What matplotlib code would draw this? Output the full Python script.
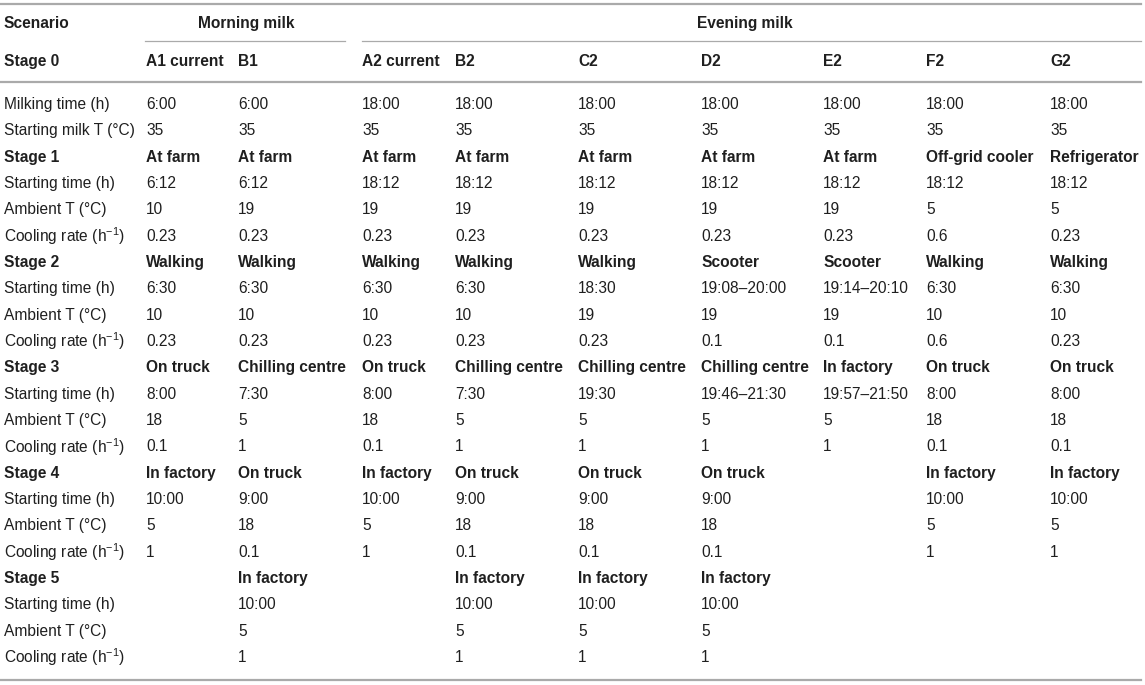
import matplotlib
matplotlib.use("Agg")
import matplotlib.pyplot as plt

plt.rcParams["mathtext.fontset"] = "custom"
plt.rcParams["mathtext.rm"] = "Liberation Sans"
plt.rcParams["mathtext.it"] = "Liberation Sans:italic"
plt.rcParams["mathtext.bf"] = "Liberation Sans:bold"

# ---- table content ----
groups = ["Morning milk", "Evening milk"]
scenarios = ["A1 current", "B1", "A2 current", "B2", "C2", "D2", "E2", "F2", "G2"]

milking_time = ["6:00", "6:00", "18:00", "18:00", "18:00", "18:00", "18:00", "18:00", "18:00"]
start_milk_T = ["35", "35", "35", "35", "35", "35", "35", "35", "35"]

s1_place = ["At farm", "At farm", "At farm", "At farm", "At farm", "At farm", "At farm",
            "Off-grid cooler", "Refrigerator"]
s1_time = ["6:12", "6:12", "18:12", "18:12", "18:12", "18:12", "18:12", "18:12", "18:12"]
s1_amb = ["10", "19", "19", "19", "19", "19", "19", "5", "5"]
s1_rate = ["0.23", "0.23", "0.23", "0.23", "0.23", "0.23", "0.23", "0.6", "0.23"]

s2_place = ["Walking", "Walking", "Walking", "Walking", "Walking", "Scooter", "Scooter",
            "Walking", "Walking"]
s2_time = ["6:30", "6:30", "6:30", "6:30", "18:30", "19:08\u201320:00", "19:14\u201320:10",
           "6:30", "6:30"]
s2_amb = ["10", "10", "10", "10", "19", "19", "19", "10", "10"]
s2_rate = ["0.23", "0.23", "0.23", "0.23", "0.23", "0.1", "0.1", "0.6", "0.23"]

s3_place = ["On truck", "Chilling centre", "On truck", "Chilling centre", "Chilling centre",
            "Chilling centre", "In factory", "On truck", "On truck"]
s3_time = ["8:00", "7:30", "8:00", "7:30", "19:30", "19:46\u201321:30", "19:57\u201321:50",
           "8:00", "8:00"]
s3_amb = ["18", "5", "18", "5", "5", "5", "5", "18", "18"]
s3_rate = ["0.1", "1", "0.1", "1", "1", "1", "1", "0.1", "0.1"]

s4_place = ["In factory", "On truck", "In factory", "On truck", "On truck", "On truck", "",
            "In factory", "In factory"]
s4_time = ["10:00", "9:00", "10:00", "9:00", "9:00", "9:00", "", "10:00", "10:00"]
s4_amb = ["5", "18", "5", "18", "18", "18", "", "5", "5"]
s4_rate = ["1", "0.1", "1", "0.1", "0.1", "0.1", "", "1", "1"]

s5_place = ["", "In factory", "", "In factory", "In factory", "In factory", "", "", ""]
s5_time = ["", "10:00", "", "10:00", "10:00", "10:00", "", "", ""]
s5_amb = ["", "5", "", "5", "5", "5", "", "", ""]
s5_rate = ["", "1", "", "1", "1", "1", "", "", ""]

lbl_time = "Starting time (h)"
lbl_amb = "Ambient T (\u00b0C)"
lbl_rate = r"Cooling rate (h$^{-1}$)"

# (label, values, bold)
body = [
    ("Milking time (h)", milking_time, False),
    ("Starting milk T (\u00b0C)", start_milk_T, False),
]
for k, (pl, tm, am, rt) in enumerate([
        (s1_place, s1_time, s1_amb, s1_rate),
        (s2_place, s2_time, s2_amb, s2_rate),
        (s3_place, s3_time, s3_amb, s3_rate),
        (s4_place, s4_time, s4_amb, s4_rate),
        (s5_place, s5_time, s5_amb, s5_rate)]):
    body.append(("Stage %d" % (k + 1), pl, True))
    body.append((lbl_time, tm, False))
    body.append((lbl_amb, am, False))
    body.append((lbl_rate, rt, False))

# ---- layout (pixel coordinates) ----
W, H = 1145, 685
col_x = [146, 238, 362, 455, 578, 701, 823, 926, 1050]
label_x = 4
y_first = 104.5
dy = 26.33
fs = 11.2
txt_color = "#1f1f1f"
line_color = "#aaaaaa"
fam = ["Liberation Sans", "DejaVu Sans"]

fig = plt.figure(figsize=(W / 100, H / 100), dpi=100)
ax = fig.add_axes([0, 0, 1, 1])
ax.set_xlim(0, W)
ax.set_ylim(H, 0)
ax.axis("off")


def put(x, y, s, bold=False, ha="left"):
    ax.text(x, y, s, fontsize=fs, family=fam, color=txt_color,
            fontweight="bold" if bold else "normal", ha=ha, va="center")


# rules
ax.plot([0, 1141], [4, 4], color=line_color, lw=1.6)
ax.plot([145, 345], [41, 41], color=line_color, lw=0.9)
ax.plot([362, 1141], [41, 41], color=line_color, lw=0.9)
ax.plot([0, 1141], [82, 82], color=line_color, lw=1.6)
ax.plot([0, 1141], [680, 680], color=line_color, lw=1.6)

# header
put(label_x, 23, "Scenario", bold=True)
put(246, 23, groups[0], bold=True, ha="center")
put(745, 23, groups[1], bold=True, ha="center")
put(label_x, 61, "Stage 0", bold=True)
for x, s in zip(col_x, scenarios):
    put(x, 61, s, bold=True)

# body
for i, (lab, vals, bold) in enumerate(body):
    y = y_first + i * dy
    put(label_x, y, lab, bold=bold)
    for x, v in zip(col_x, vals):
        if v:
            put(x, y, v, bold=bold)

fig.savefig("out.png", dpi=100, facecolor="white")
